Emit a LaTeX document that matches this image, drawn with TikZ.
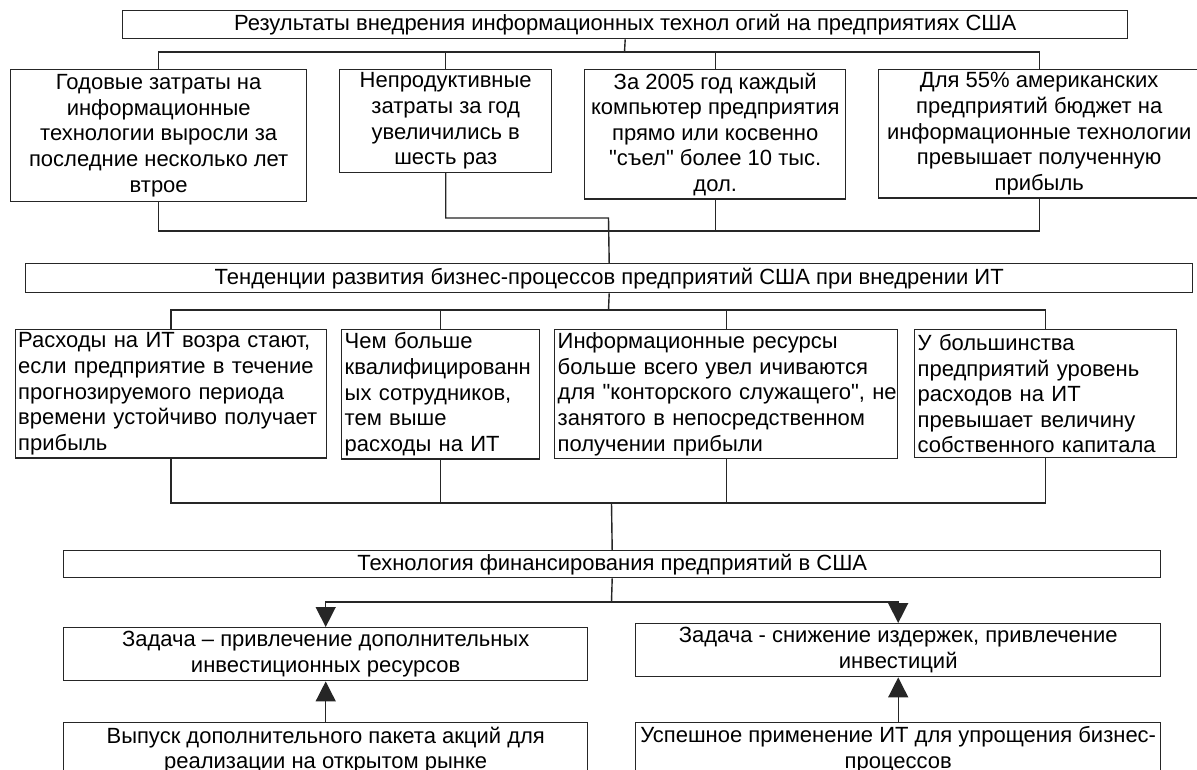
\documentclass[tikz,border=0pt]{standalone}
\usepackage{fontspec}
\setmainfont{Liberation Sans}[Ligatures=TeXOff]
\usetikzlibrary{arrows.meta}
\begin{document}
\begin{tikzpicture}[x=1pt,y=-1pt,
  every node/.style={font=\fontsize{22}{25.6}\selectfont, text=black},
  cbox/.style={draw=black!85, line width=1.4pt, inner sep=3pt, align=center, anchor=north west},
  lbox/.style={draw=black!85, line width=1.4pt, inner sep=3pt, align=left, anchor=north west},
  link/.style={draw=black!85, line width=1.4pt},
  arr/.style={link, -{Triangle[length=20pt,width=20pt]}}
]
\useasboundingbox (0,0) rectangle (1197,770);
\fill[white] (0,0) rectangle (1197,770);
\clip (0,0) rectangle (1197,770);

% first title and its four findings
\node[cbox, minimum width=1005, minimum height=28] (t1) at (122,10)
  {Результаты внедрения информационных технол огий на предприятиях США};
\node[cbox, minimum width=296, minimum height=132] (b1) at (10,69)
  {Годовые затраты на\\информационные\\технологии выросли за\\последние несколько лет\\втрое};
\node[cbox, minimum width=212, minimum height=102] (b2) at (339,69)
  {Непродуктивные\\затраты за год\\увеличились в\\шесть раз};
\node[cbox, minimum width=261, minimum height=128] (b3) at (584,69)
  {За 2005 год каждый\\компьютер предприятия\\прямо или косвенно\\"съел" более 10 тыс.\\дол.};
\node[cbox, minimum width=321, minimum height=124] (b4) at (878,69)
  {Для 55\% американских\\предприятий бюджет на\\информационные технологии\\превышает полученную\\прибыль};

% second title and the trends
\node[cbox, minimum width=1167, minimum height=29] (t2) at (25,263)
  {Тенденции развития бизнес-процессов предприятий США при внедрении ИТ};
\node[lbox, minimum width=311.5, minimum height=128, text width=305.5] (b5) at (14.5,329)
  {Расходы на ИТ возра стают,\\если предприятие в течение\\прогнозируемого периода\\\mbox{времени устойчиво получает}\\прибыль};
\node[lbox, minimum width=198, minimum height=128, text width=192] (b6) at (341,329)
  {Чем больше\\\mbox{квалифицированн}\\ых сотрудников,\\тем выше\\расходы на ИТ};
\node[lbox, minimum width=343, minimum height=128, text width=337] (b7) at (554,329)
  {Информационные ресурсы\\больше всего увел ичиваются\\\mbox{для "конторского служащего", не}\\занятого в непосредственном\\получении прибыли};
\node[lbox, minimum width=262, minimum height=128, text width=256] (b8) at (914,329)
  {У большинства\\предприятий уровень\\расходов на ИТ\\превышает величину\\\mbox{собственного капитала}};

% financing technology and its tasks
\node[cbox, minimum width=1097, minimum height=27] (t3) at (63,550)
  {Технология финансирования предприятий в США};
\node[cbox, minimum width=524, minimum height=53] (b9) at (63,627)
  {Задача – привлечение дополнительных\\инвестиционных ресурсов};
\node[cbox, minimum width=525, minimum height=53] (b10) at (635,623)
  {Задача - снижение издержек, привлечение\\инвестиций};
\node[cbox, minimum width=524, minimum height=55] (b11) at (63,722)
  {Выпуск дополнительного пакета акций для\\реализации на открытом рынке};
\node[cbox, minimum width=525, minimum height=54] (b12) at (635,722)
  {Успешное применение ИТ для упрощения бизнес-\\процессов};

% junction points of the buses
\coordinate (s1) at (624.5,52);
\coordinate (s2) at (608.5,231);
\coordinate (s3) at (608.5,218);
\coordinate (s4) at (608.5,310);
\coordinate (s5) at (611.5,503);
\coordinate (s6) at (611.5,602);

% first title to findings
\draw[link] (t1.south) -- (s1);
\draw[link] (b1.north) |- (s1) -| (b4.north);
\draw[link] (b2.north) -- (b2.north |- s1);
\draw[link] (b3.north) -- (b3.north |- s1);

% findings to second title
\draw[link] (b1.south) |- (s2) -| (b4.south);
\draw[link] (b3.south) -- (b3.south |- s2);
\draw[link] (b2.south) |- (s3) -- (t2.north);

% second title to trends
\draw[link] (t2.south) -- (s4);
\draw[link] (b5.north) |- (s4) -| (b8.north);
\draw[link] (b6.north) -- (b6.north |- s4);
\draw[link] (b7.north) -- (b7.north |- s4);

% trends to third title
\draw[link] (b5.south) |- (s5) -| (b8.south);
\draw[link] (b6.south) -- (b6.south |- s5);
\draw[link] (b7.south) -- (b7.south |- s5);
\draw[link] (s5) -- (t3.north);

% third title to the tasks
\draw[link] (t3.south) -- (s6);
\draw[arr] (s6) -| (b9.north);
\draw[arr] (s6) -| (b10.north);

% means to tasks
\draw[arr] (b11.north) -- (b9.south);
\draw[arr] (b12.north) -- (b10.south);
\end{tikzpicture}
\end{document}
